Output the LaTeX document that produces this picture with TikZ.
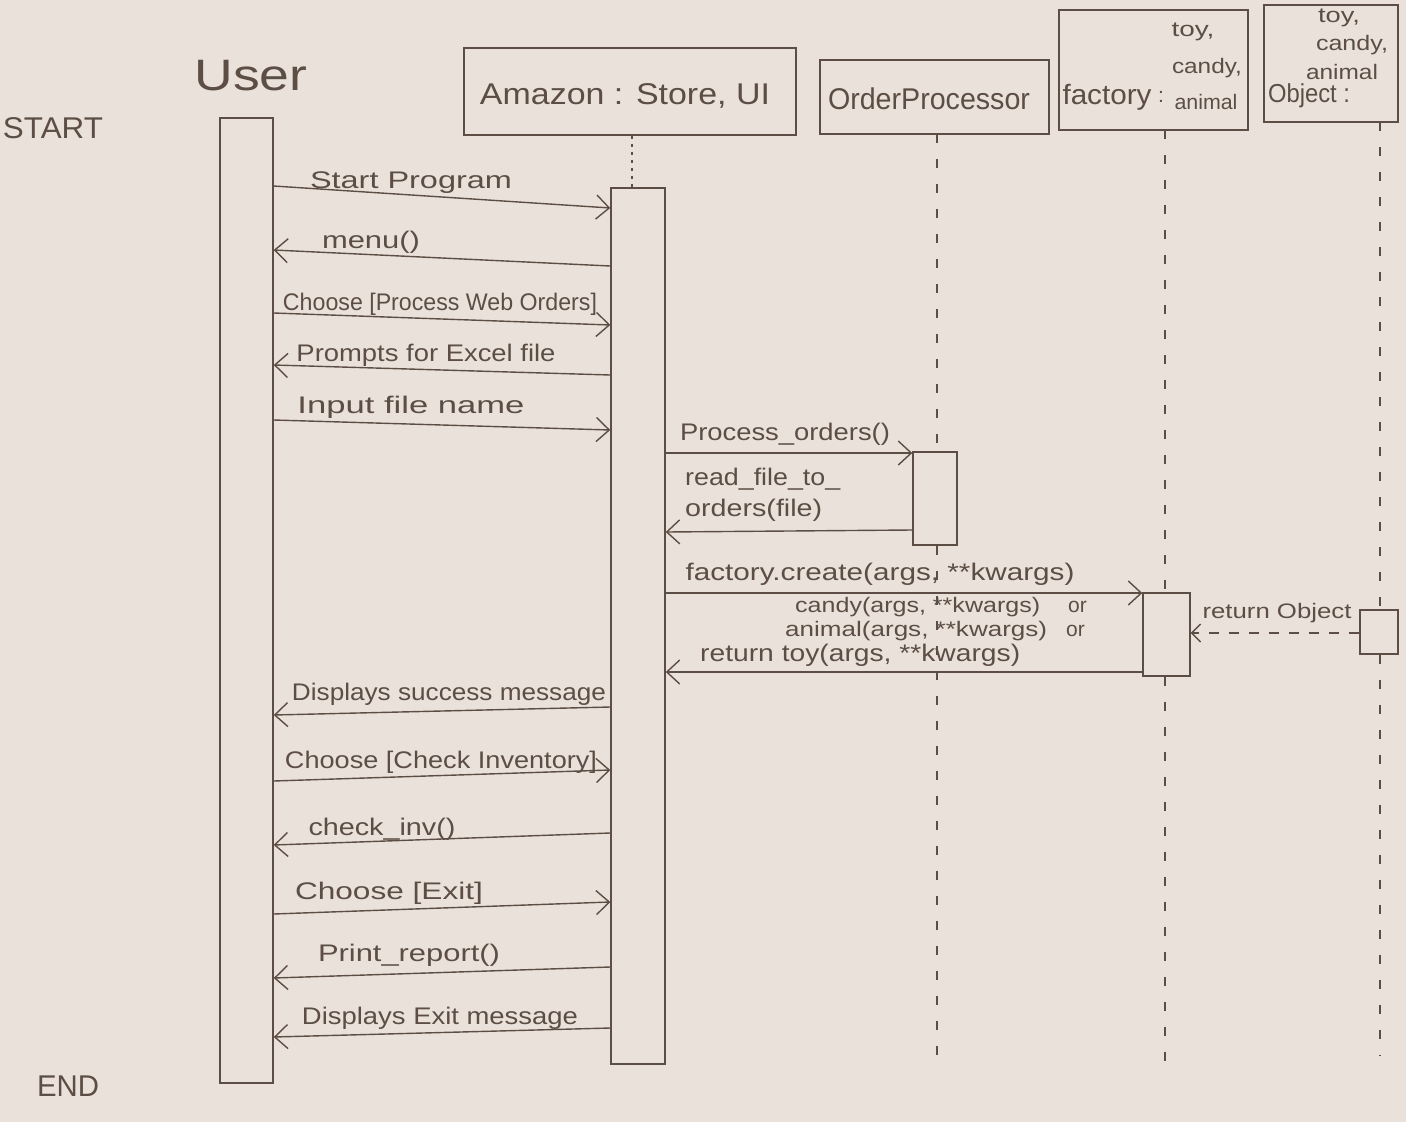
\documentclass[tikz,border=0pt]{standalone}
\usepackage{fontspec}
\setmainfont{Liberation Sans}
\usetikzlibrary{arrows.meta,calc}
\definecolor{paper}{RGB}{234,226,218}
\definecolor{ink}{RGB}{92,78,68}
% set a text to a given width (in pt), keeping its natural height
\newcommand\hw[2]{\resizebox{#1pt}{\height}{#2}}
\begin{document}
\begin{tikzpicture}[x=1pt,y=-1pt,
  pen/.style={draw=ink,line width=1.4pt},
  lifebox/.style={pen,rectangle,inner sep=0pt},
  actbox/.style={pen,rectangle,inner sep=0pt},
  msg/.style={pen,-{Straight Barb[length=13pt,width=24pt,line width=1.4pt]}},
  retmsg/.style={pen,dash pattern=on 10pt off 10pt,-{Straight Barb[length=9pt,width=18pt,line width=1.4pt]}},
  life/.style={draw=ink,line width=1.2pt,dash pattern=on 9pt off 16pt},
  lbl/.style={text=ink,font=\fontsize{24}{28}\selectfont,inner sep=0pt},
  hd/.style={text=ink,font=\fontsize{30}{34}\selectfont,inner sep=0pt},
  sm/.style={text=ink,font=\fontsize{21}{24}\selectfont,inner sep=0pt}
]
% sheet
\fill[paper] (0,0) rectangle (1406,1122);
\useasboundingbox (0,0) rectangle (1406,1122);

% participants
\node[hd,font=\fontsize{44}{48}\selectfont] (user) at (251,76) {\hw{113}{User}};
\node[hd] (start) at (53,128) {\hw{100}{START}};
\node[hd] (endlbl) at (68,1086) {\hw{62}{END}};

\node[lifebox,minimum width=332,minimum height=87] (amz) at (630,91.5) {};
\node[hd] at (625,96) {\hw{290}{Amazon : Store, UI}};
\node[lifebox,minimum width=229,minimum height=74] (op) at (934.5,97) {};
\node[hd] at (929,99) {\hw{202}{OrderProcessor}};
\node[lifebox,minimum width=189,minimum height=120] (fac) at (1153.5,70) {};
\node[hd,font=\fontsize{28}{30}\selectfont] at (1107,97) {\hw{89}{factory}};
\node[sm] at (1161,97) {:};
\node[sm] at (1193,32) {\hw{43}{toy,}};
\node[sm] at (1207,68) {\hw{70}{candy,}};
\node[sm] at (1206,102) {\hw{63}{animal}};
\node[lifebox,minimum width=134,minimum height=117] (obj) at (1331,63.5) {};
\node[sm] at (1339,18) {\hw{42}{toy,}};
\node[sm] at (1352,45) {\hw{72}{candy,}};
\node[sm] at (1342,72) {\hw{72}{animal}};
\node[sm,font=\fontsize{26}{28}\selectfont] at (1309,96) {\hw{82}{Object :}};

% activation bars
\node[actbox,minimum width=53,minimum height=965] (uact) at (246.5,600.5) {};
\node[actbox,minimum width=54,minimum height=876] (aact) at (638,626) {};
\node[actbox,minimum width=44,minimum height=93] (oact) at (935,498.5) {};
\node[actbox,minimum width=47,minimum height=83] (fact) at (1166.5,634.5) {};
\node[actbox,minimum width=38,minimum height=44] (bact) at (1379,632) {};

% lifelines
\coordinate (aTop) at ($(amz.south)+(2,0)$);
\draw[draw=ink,line width=1.2pt,dash pattern=on 3pt off 5pt] (aTop) -- (aTop |- aact.north);
\coordinate (oTop) at (937,134);
\coordinate (oEnd) at (937,1060);
\draw[life] (oTop) -- (oTop |- oact.north);
\draw[life] (oTop |- oact.south) -- (oEnd);
\coordinate (fTop) at (1165,130);
\coordinate (fEnd) at (1165,1062);
\draw[life] (fTop) -- (fTop |- fact.north);
\draw[life] (fTop |- fact.south) -- (fEnd);
\coordinate (bTop) at (1380,122);
\coordinate (bEnd) at (1380,1055);
\draw[life] (bTop) -- (bTop |- bact.north);
\draw[life] (bTop |- bact.south) -- (bEnd);

% message end points
\coordinate (u1) at (uact.east |- 0,186);  \coordinate (a1) at (aact.west |- 0,208);
\coordinate (a2) at (aact.west |- 0,266);  \coordinate (u2) at (uact.east |- 0,250);
\coordinate (u3) at (uact.east |- 0,313);  \coordinate (a3) at (aact.west |- 0,325);
\coordinate (a4) at (aact.west |- 0,375);  \coordinate (u4) at (uact.east |- 0,365);
\coordinate (u5) at (uact.east |- 0,420);  \coordinate (a5) at (aact.west |- 0,430);
\coordinate (a6) at (aact.east |- 0,453);  \coordinate (o6) at (oact.west |- 0,453);
\coordinate (o7) at (oact.west |- 0,530);  \coordinate (a7) at (aact.east |- 0,532);
\coordinate (a8) at (aact.east |- 0,593);  \coordinate (f8) at (fact.west |- 0,593);
\coordinate (f9) at (fact.west |- 0,672);  \coordinate (a9) at (aact.east |- 0,672);
\coordinate (b10) at (bact.west |- 0,633); \coordinate (f10) at (fact.east |- 0,633);
\coordinate (a11) at (aact.west |- 0,707); \coordinate (u11) at (uact.east |- 0,715);
\coordinate (u12) at (uact.east |- 0,781); \coordinate (a12) at (aact.west |- 0,770);
\coordinate (a13) at (aact.west |- 0,833); \coordinate (u13) at (uact.east |- 0,845);
\coordinate (u14) at (uact.east |- 0,914); \coordinate (a14) at (aact.west |- 0,902);
\coordinate (a15) at (aact.west |- 0,967); \coordinate (u15) at (uact.east |- 0,978);
\coordinate (a16) at (aact.west |- 0,1028);\coordinate (u16) at (uact.east |- 0,1037);

% messages
\draw[msg] (u1) -- (a1);
\node[lbl] at (411,183) {\hw{202}{Start Program}};
\draw[msg] (a2) -- (u2);
\node[lbl] at (371,242) {\hw{98}{menu()}};
\draw[msg] (u3) -- (a3);
\node[lbl] at (440,304) {\hw{314}{Choose [Process Web Orders]}};
\draw[msg] (a4) -- (u4);
\node[lbl] at (426,355) {\hw{259}{Prompts for Excel file}};
\draw[msg] (u5) -- (a5);
\node[lbl] at (411,407) {\hw{227}{Input file name}};
\draw[msg] (a6) -- (o6);
\node[lbl] at (785,434) {\hw{210}{Process\_orders()}};
\draw[msg] (o7) -- (a7);
\node[lbl,anchor=west] at (685,479) {\hw{155}{read\_file\_to\_}};
\node[lbl,anchor=west] at (685,510) {\hw{137}{orders(file)}};
\draw[msg] (a8) -- (f8);
\node[lbl] at (880,574) {\hw{389}{factory.create(args, **kwargs)}};
\draw[msg] (f9) -- (a9);
\node[sm,anchor=west] at (795,607) {\hw{245}{candy(args, **kwargs)}};
\node[sm,anchor=west] at (1068,607) {or};
\node[sm,anchor=west] at (785,631) {\hw{262}{animal(args, **kwargs)}};
\node[sm,anchor=west] at (1066,631) {or};
\node[lbl,anchor=west] at (700,655) {\hw{320}{return toy(args, **kwargs)}};
\draw[retmsg] (b10) -- (f10);
\node[sm] at (1277,613) {\hw{149}{return Object}};
\draw[msg] (a11) -- (u11);
\node[lbl] at (449,694) {\hw{314}{Displays success message}};
\draw[msg] (u12) -- (a12);
\node[lbl] at (441,762) {\hw{312}{Choose [Check Inventory]}};
\draw[msg] (a13) -- (u13);
\node[lbl] at (382,829) {\hw{147}{check\_inv()}};
\draw[msg] (u14) -- (a14);
\node[lbl] at (389,893) {\hw{188}{Choose [Exit]}};
\draw[msg] (a15) -- (u15);
\node[lbl] at (409,955) {\hw{182}{Print\_report()}};
\draw[msg] (a16) -- (u16);
\node[lbl] at (440,1018) {\hw{276}{Displays Exit message}};
\end{tikzpicture}
\end{document}
